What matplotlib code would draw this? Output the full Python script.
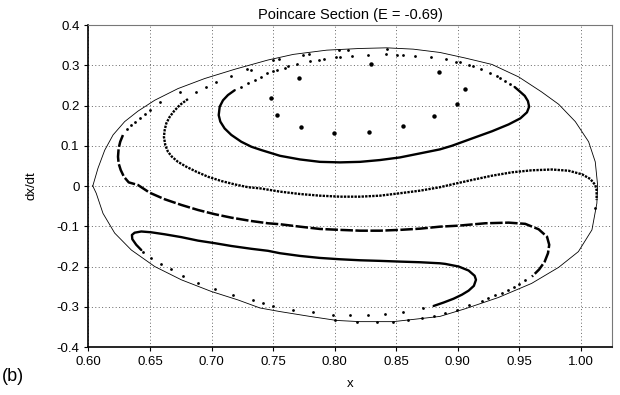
import matplotlib
matplotlib.use("Agg")
import matplotlib.pyplot as plt
import numpy as np

plt.rcParams["font.family"] = ["Liberation Sans", "DejaVu Sans"]

# energy boundary (thin closed line)
bound_x = [0.6035, 0.6077, 0.6132, 0.620, 0.6294, 0.6402, 0.6538, 0.6727, 0.6944, 0.7188,
           0.7458, 0.7664, 0.7935, 0.8206, 0.8422, 0.8639, 0.8855, 0.906, 0.9278, 0.9495,
           0.968, 0.982, 0.9955, 1.0063, 1.0117, 1.0136, 1.0130, 1.009, 0.998, 0.982,
           0.960, 0.933, 0.906, 0.8855, 0.8476, 0.8205, 0.8016, 0.7799, 0.7556, 0.7393,
           0.7214, 0.6998, 0.6754, 0.6538, 0.6348, 0.6213, 0.6118, 0.6063, 0.6035]
bound_y = [0.000, 0.044, 0.089, 0.127, 0.160, 0.186, 0.213, 0.242, 0.267, 0.290,
           0.313, 0.327, 0.3375, 0.3417, 0.3433, 0.340, 0.3318, 0.318, 0.302, 0.271,
           0.234, 0.203, 0.160, 0.110, 0.060, 0.0025, -0.043, -0.109, -0.163, -0.202,
           -0.242, -0.277, -0.305, -0.324, -0.337, -0.337, -0.334, -0.324, -0.312, -0.303,
           -0.283, -0.262, -0.233, -0.200, -0.159, -0.117, -0.068, -0.018, 0.000]

# inner C-shaped orbit (dense)
c1_x = [0.7188, 0.7133, 0.7093, 0.7066, 0.7058, 0.7071, 0.7106, 0.716, 0.7241, 0.7323,
        0.7404, 0.7556, 0.7718, 0.788, 0.8043, 0.8206, 0.8368, 0.853, 0.8693, 0.8855,
        0.8953, 0.9115, 0.9278, 0.9413, 0.9508, 0.9562, 0.958, 0.957, 0.9544, 0.950, 0.9462]
c1_y = [0.238, 0.226, 0.213, 0.197, 0.176, 0.160, 0.143, 0.127, 0.110, 0.0976,
        0.0893, 0.075, 0.066, 0.060, 0.0587, 0.060, 0.0645, 0.071, 0.081, 0.091,
        0.100, 0.118, 0.136, 0.153, 0.168, 0.183, 0.197, 0.211, 0.224, 0.236, 0.246]

# its sparse continuation along the top
c1s_x = [0.7241, 0.7296, 0.735, 0.7404, 0.7447, 0.7501, 0.7529, 0.7596, 0.7623, 0.7691,
         0.780, 0.7875, 0.7913, 0.801, 0.8043, 0.8138, 0.8273, 0.8417, 0.8508, 0.8557,
         0.8652, 0.878, 0.8904, 0.8985, 0.902, 0.9094, 0.9121, 0.9191, 0.9265, 0.9319,
         0.9346, 0.9386, 0.9427]
c1s_y = [0.2465, 0.2548, 0.263, 0.271, 0.280, 0.285, 0.2886, 0.2937, 0.297, 0.302,
         0.310, 0.314, 0.3167, 0.320, 0.3217, 0.3242, 0.3267, 0.3275, 0.3267, 0.326,
         0.3234, 0.3193, 0.3143, 0.3084, 0.3069, 0.300, 0.2978, 0.290, 0.2796, 0.273,
         0.2688, 0.2605, 0.2523]

# middle orbit (dense dots)
c2_x = [0.6808, 0.6741, 0.6695, 0.666, 0.6632, 0.6619, 0.6613, 0.6624, 0.6646, 0.6678,
        0.6727, 0.6794, 0.6876, 0.6971, 0.7079, 0.7188, 0.7296, 0.7393, 0.7556, 0.7718,
        0.788, 0.8043, 0.8206, 0.8368, 0.853, 0.8693, 0.8855, 0.8953, 0.9115, 0.9278,
        0.944, 0.960, 0.9765, 0.990, 1.001, 1.0077, 1.0117, 1.0128, 1.0128]
c2_y = [0.216, 0.201, 0.186, 0.172, 0.1555, 0.139, 0.122, 0.1017, 0.085, 0.0727,
        0.060, 0.048, 0.0356, 0.023, 0.0124, 0.004, -0.003, -0.0058, -0.014, -0.0199,
        -0.024, -0.0265, -0.0265, -0.024, -0.018, -0.0116, -0.003, 0.004, 0.015, 0.0256,
        0.034, 0.039, 0.041, 0.038, 0.029, 0.0174, 0.0025, -0.010, -0.035]

# sparse continuation of the middle orbit
c2s_x = [0.6876, 0.6957, 0.7038, 0.716, 0.729, 0.7323, 0.750, 0.755, 0.774, 0.7794,
         0.8037, 0.811, 0.8427, 1.0117]
c2s_y = [0.234, 0.245, 0.259, 0.274, 0.290, 0.288, 0.3127, 0.3143, 0.325, 0.3275,
         0.3367, 0.338, 0.3416, -0.055]

# left outer chain hugging the boundary
edge_x = [0.6315, 0.6348, 0.638, 0.6421, 0.6457, 0.6497, 0.6578, 0.6741]
edge_y = [0.1414, 0.151, 0.160, 0.1695, 0.178, 0.1886, 0.2077, 0.234]

# long S-shaped orbit (dashed look)
c3_x = [0.628, 0.6258, 0.6245, 0.624, 0.6245, 0.6262, 0.6288, 0.6327, 0.6402, 0.6497,
        0.662, 0.6754, 0.689, 0.7025, 0.716, 0.7323, 0.7458, 0.7556, 0.7718, 0.788,
        0.8043, 0.8206, 0.8368, 0.853, 0.8693, 0.8855, 0.9007, 0.9223, 0.9413, 0.9548,
        0.9657, 0.9725, 0.9743, 0.9733, 0.9706, 0.9662, 0.9603]
c3_y = [0.1266, 0.110, 0.0935, 0.0727, 0.056, 0.0397, 0.023, 0.009, 0.0025, -0.0166,
        -0.033, -0.047, -0.0596, -0.070, -0.0786, -0.087, -0.0926, -0.095, -0.101, -0.1067,
        -0.109, -0.111, -0.111, -0.109, -0.106, -0.101, -0.0985, -0.0926, -0.091, -0.094,
        -0.1075, -0.126, -0.146, -0.167, -0.188, -0.207, -0.225]

# outer bottom chain
c3s_x = [0.9548, 0.950, 0.9454, 0.9408, 0.9359, 0.9305, 0.9245, 0.9197, 0.9088, 0.8994,
         0.8898, 0.8804, 0.8707, 0.8598, 0.8476, 0.8341, 0.8184, 0.8002]
c3s_y = [-0.233, -0.243, -0.250, -0.258, -0.265, -0.270, -0.279, -0.285, -0.295, -0.308,
         -0.316, -0.324, -0.328, -0.332, -0.337, -0.337, -0.337, -0.332]

# bottom loop (dense)
c4_x = [0.6429, 0.6388, 0.6356, 0.6353, 0.6375, 0.6429, 0.651, 0.662, 0.6754, 0.689,
        0.7025, 0.716, 0.7323, 0.7458, 0.7556, 0.7718, 0.788, 0.8043, 0.8206, 0.8368,
        0.853, 0.8693, 0.8855, 0.8898, 0.9007, 0.9088, 0.9137, 0.9148, 0.9131, 0.9088,
        0.9034, 0.8966, 0.8885, 0.8804]
c4_y = [-0.159, -0.146, -0.132, -0.1216, -0.116, -0.113, -0.115, -0.120, -0.127, -0.1357,
        -0.142, -0.149, -0.156, -0.161, -0.167, -0.1737, -0.1787, -0.182, -0.1845, -0.186,
        -0.1878, -0.1894, -0.192, -0.1935, -0.200, -0.210, -0.223, -0.233, -0.248, -0.260,
        -0.270, -0.280, -0.2895, -0.298]

# inner bottom chain (sparse continuation of the loop)
c4s_x = [0.8720, 0.8557, 0.8409, 0.8273, 0.8125, 0.7984, 0.7826, 0.7664, 0.7496, 0.7418,
         0.7336, 0.7174, 0.7025, 0.689, 0.6768, 0.6673, 0.6587, 0.651, 0.6443]
c4s_y = [-0.304, -0.312, -0.318, -0.320, -0.320, -0.320, -0.314, -0.308, -0.298, -0.291,
         -0.283, -0.2705, -0.2556, -0.240, -0.2233, -0.2068, -0.1935, -0.1795, -0.163]

# resonance island chain
isl_x = [0.748, 0.7529, 0.7724, 0.7994, 0.8281, 0.8557, 0.881, 0.8994, 0.9056, 0.885,
         0.8293, 0.7713]
isl_y = [0.2176, 0.1754, 0.1456, 0.1323, 0.1332, 0.149, 0.173, 0.2027, 0.2407, 0.2836,
         0.3027, 0.269]

xticks = [0.60, 0.65, 0.70, 0.75, 0.80, 0.85, 0.90, 0.95, 1.00]
yticks = [-0.4, -0.3, -0.2, -0.1, 0.0, 0.1, 0.2, 0.3, 0.4]
ytick_labels = ["-0.4", "-0.3", "-0.2", "-0.1", "0", "0.1", "0.2", "0.3", "0.4"]

fig = plt.figure(figsize=(6.2, 3.95), dpi=100)
ax = fig.add_axes([0.1427, 0.1215, 0.8444, 0.8152])

ax.plot(bound_x, bound_y, color="black", lw=0.6)
ax.plot(c1_x, c1_y, color="black", lw=1.7, solid_capstyle="round")
ax.plot(c2_x, c2_y, color="black", lw=1.7, ls=(0, (1.0, 0.5)))
ax.plot(c3_x, c3_y, color="black", lw=1.8, ls=(0, (5, 1)))
ax.plot(c4_x, c4_y, color="black", lw=1.7, solid_capstyle="round")
for sx, sy in [(c1s_x, c1s_y), (c2s_x, c2s_y), (edge_x, edge_y), (c3s_x, c3s_y), (c4s_x, c4s_y)]:
    ax.plot(sx, sy, ls="none", marker="o", ms=2.0, color="black", mew=0)
ax.plot(isl_x, isl_y, ls="none", marker="o", ms=3.2, color="black", mew=0)

ax.set_xlim(0.60, 1.0253)
ax.set_ylim(-0.4, 0.4)
ax.set_xticks(xticks)
ax.set_xticklabels([f"{v:.2f}" for v in xticks])
ax.set_yticks(yticks)
ax.set_yticklabels(ytick_labels)
ax.tick_params(labelsize=9.5, length=3, width=0.8, direction="out")
ax.grid(True, color="#666666", ls=(0, (1, 2.5)), lw=0.7)

for side in ["top", "right"]:
    ax.spines[side].set_color("#777777")
    ax.spines[side].set_linewidth(0.8)
for side in ["left", "bottom"]:
    ax.spines[side].set_color("black")
    ax.spines[side].set_linewidth(1.2)

ax.set_title("Poincare Section (E = -0.69)", fontsize=10.5, pad=4)
ax.set_xlabel("x", fontsize=9.5, labelpad=7)
ax.set_ylabel("dx/dt", fontsize=9.5, labelpad=14)
fig.text(0.003, 0.035, "(b)", fontsize=13)

fig.savefig("out.png", dpi=100)
